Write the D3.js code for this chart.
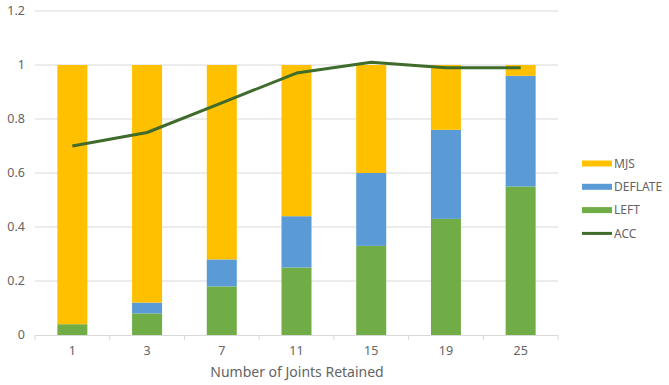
<!DOCTYPE html>
<html>
<head>
<meta charset="utf-8">
<script src="https://cdn.jsdelivr.net/npm/d3@7/dist/d3.min.js"></script>
<style>
  html, body { margin: 0; padding: 0; background: #fff; }
  svg text { font-family: "Noto Sans", "Open Sans", sans-serif; fill: #646464; }
</style>
</head>
<body>
<svg id="chart" width="669" height="385"></svg>
<script>
// Joints retained per configuration
const categories = ["1", "3", "7", "11", "15", "19", "25"];
// Stacked shares
const leftValues    = [0.04, 0.08, 0.18, 0.25, 0.33, 0.43, 0.55];
const deflateValues = [0.00, 0.04, 0.10, 0.19, 0.27, 0.33, 0.41];
const mjsValues     = [0.96, 0.88, 0.72, 0.56, 0.40, 0.24, 0.04];
// Accuracy line
const accValues     = [0.70, 0.75, 0.86, 0.97, 1.01, 0.99, 0.99];
const yTicks = [0, 0.2, 0.4, 0.6, 0.8, 1, 1.2];
const xTitle = "Number of Joints Retained";

const series = [
  { key: "LEFT", values: leftValues, color: "#70AD47" },
  { key: "DEFLATE", values: deflateValues, color: "#5B9BD5" },
  { key: "MJS", values: mjsValues, color: "#FFC000" }
];

const svg = d3.select("#chart");
const plot = { left: 35, right: 558, top: 11, bottom: 335 };

const xOuter = d3.scaleBand().domain(categories).range([plot.left, plot.right]);
const y = d3.scaleLinear().domain([0, 1.2]).range([plot.bottom, plot.top]);

// gridlines
svg.append("g")
  .selectAll("line")
  .data(yTicks.filter(d => d > 0))
  .join("line")
  .attr("x1", plot.left).attr("x2", plot.right)
  .attr("y1", d => y(d)).attr("y2", d => y(d))
  .attr("stroke", "#D9D9D9").attr("stroke-width", 1);

// y tick labels
svg.append("g")
  .selectAll("text")
  .data(yTicks)
  .join("text")
  .attr("x", 25).attr("y", d => y(d))
  .attr("dy", "0.35em")
  .attr("text-anchor", "end")
  .attr("font-size", 12.5)
  .text(d => d3.format("~g")(d));

// stacked bars
const rows = categories.map((c, i) => {
  const r = { cat: c };
  series.forEach(s => r[s.key] = s.values[i]);
  return r;
});
const stacked = d3.stack().keys(series.map(s => s.key))(rows);
const bw = 30;
svg.append("g")
  .selectAll("g")
  .data(stacked)
  .join("g")
  .attr("fill", (d, i) => series[i].color)
  .selectAll("rect")
  .data(d => d)
  .join("rect")
  .attr("x", d => xOuter(d.data.cat) + xOuter.bandwidth() / 2 - bw / 2)
  .attr("width", bw)
  .attr("y", d => y(d[1]))
  .attr("height", d => Math.max(0, y(d[0]) - y(d[1])));

// x axis line and ticks
svg.append("line")
  .attr("x1", plot.left).attr("x2", plot.right)
  .attr("y1", plot.bottom + 0.5).attr("y2", plot.bottom + 0.5)
  .attr("stroke", "#D9D9D9");
const boundaries = categories.map(c => xOuter(c)).concat([plot.right]);
svg.append("g")
  .selectAll("line")
  .data(boundaries)
  .join("line")
  .attr("x1", d => d).attr("x2", d => d)
  .attr("y1", plot.bottom).attr("y2", plot.bottom + 5)
  .attr("stroke", "#D9D9D9");

svg.append("g")
  .selectAll("text")
  .data(categories)
  .join("text")
  .attr("x", d => xOuter(d) + xOuter.bandwidth() / 2)
  .attr("y", 355)
  .attr("text-anchor", "middle")
  .attr("font-size", 12.5)
  .text(d => d);

svg.append("text")
  .attr("x", 297)
  .attr("y", 377)
  .attr("text-anchor", "middle")
  .attr("font-size", 14)
  .text(xTitle);

// accuracy line
const line = d3.line()
  .x((d, i) => xOuter(categories[i]) + xOuter.bandwidth() / 2)
  .y(d => y(d));
svg.append("path")
  .datum(accValues)
  .attr("fill", "none")
  .attr("stroke", "#3F6B2B")
  .attr("stroke-width", 3)
  .attr("stroke-linejoin", "round")
  .attr("d", line);

// legend
const legendItems = [
  { key: "MJS", color: "#FFC000", type: "bar" },
  { key: "DEFLATE", color: "#5B9BD5", type: "bar" },
  { key: "LEFT", color: "#70AD47", type: "bar" },
  { key: "ACC", color: "#3F6B2B", type: "line" }
];
const lg = svg.append("g").selectAll("g")
  .data(legendItems)
  .join("g")
  .attr("transform", (d, i) => `translate(582, ${163.5 + i * 23.3})`);
lg.filter(d => d.type === "bar").append("rect")
  .attr("x", 0).attr("y", -3).attr("width", 30).attr("height", 6)
  .attr("fill", d => d.color);
lg.filter(d => d.type === "line").append("line")
  .attr("x1", 0).attr("x2", 30).attr("y1", 0).attr("y2", 0)
  .attr("stroke", d => d.color).attr("stroke-width", 3);
lg.append("text")
  .attr("x", 32).attr("y", 0).attr("dy", "0.35em")
  .attr("font-size", 12)
  .text(d => d.key);
</script>
</body>
</html>
